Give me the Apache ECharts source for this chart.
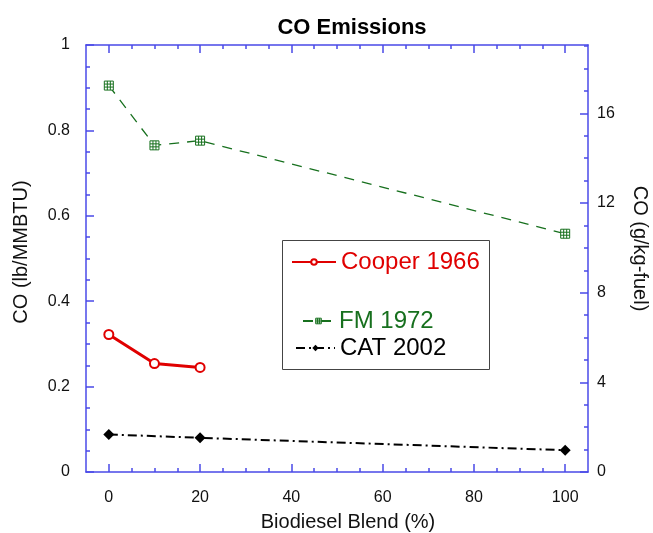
<!DOCTYPE html>
<html>
<head>
<meta charset="utf-8">
<script src="https://cdn.jsdelivr.net/npm/echarts@6/dist/echarts.min.js"></script>
<style>
  html, body { margin: 0; padding: 0; background: #fff; }
  #chart { width: 653px; height: 533px; }
</style>
</head>
<body>
<div id="chart"></div>
<script>
// values (x = % biodiesel, y = lb/MMBTU)
var cooperX = [0, 10, 20];
var cooperY = [0.322, 0.254, 0.245];
var fmX = [0, 10, 20, 100];
var fmY = [0.905, 0.765, 0.776, 0.558];
var catX = [0, 20, 100];
var catY = [0.088, 0.080, 0.051];

var xLabels = [0, 20, 40, 60, 80, 100];
var rightLabels = [0, 4, 8, 12, 16];

var font = 'Liberation Sans';
var axisBlue = '#4a4ae8';
var red = '#e00000';
var green = '#17701e';

function pairs(xs, ys) {
    var out = [];
    for (var i = 0; i < xs.length; i++) {
        out.push([xs[i], ys[i]]);
    }
    return out;
}

// minor tick spots
var xMinor = [];
for (var v = 0; v <= 100; v += 5) xMinor.push(v);
var rightMinor = [];
for (var r = 0; r <= 19; r++) rightMinor.push(r);

function xAxisCfg(pos, major) {
    return {
        type: 'value', position: pos, min: -5, max: 105,
        axisLine: { show: major, onZero: false, lineStyle: { color: axisBlue, width: 1.5 } },
        axisTick: { show: true, inside: true, length: major ? 8 : 4,
                    customValues: major ? xLabels : xMinor,
                    lineStyle: { color: axisBlue, width: 1.5 } },
        axisLabel: { show: major && pos == 'bottom', customValues: xLabels,
                     fontFamily: font, fontSize: 16, color: '#111', margin: 18 },
        splitLine: { show: false }
    };
}

var chart = echarts.init(document.getElementById('chart'));

var option = {
    backgroundColor: '#fff',
    animation: false,
    title: {
        text: 'CO Emissions',
        left: 347, top: 12, textAlign: 'center',
        textStyle: { fontFamily: font, fontSize: 22, fontWeight: 'bold', color: '#000' }
    },
    grid: { left: 86, right: 65, top: 45, bottom: 61, containLabel: false, outerBoundsMode: 'none' },
    graphic: [{
        type: 'rect',
        shape: { x: 282.5, y: 240.5, width: 207, height: 129 },
        style: { fill: '#fff', stroke: '#444', lineWidth: 1 },
        z: 50
    }],
    legend: [{
        data: ['Cooper 1966'], left: 291, top: 250, padding: 0,
        itemWidth: 44, itemHeight: 7, itemGap: 5, z: 60,
        textStyle: { fontFamily: font, fontSize: 24, lineHeight: 24, color: red }
    }, {
        data: ['FM 1972'], left: 302, top: 309, padding: 0,
        itemWidth: 31, itemHeight: 7, z: 60,
        itemStyle: { color: '#fff', borderColor: green, borderWidth: 1 },
        textStyle: { fontFamily: font, fontSize: 24, lineHeight: 24, color: green }
    }, {
        data: ['CAT 2002'], left: 295, top: 336, padding: 0,
        itemWidth: 39, itemHeight: 8, z: 60,
        textStyle: { fontFamily: font, fontSize: 24, lineHeight: 24, color: '#000' }
    }],
    xAxis: [
        Object.assign(xAxisCfg('bottom', true), {
            name: 'Biodiesel Blend (%)', nameLocation: 'middle', nameGap: 40,
            nameTextStyle: { fontFamily: font, fontSize: 20, color: '#111', padding: [0, 0, 0, 22] }
        }),
        xAxisCfg('bottom', false),
        xAxisCfg('top', true),
        xAxisCfg('top', false)
    ],
    yAxis: [{
        type: 'value', position: 'left', min: 0, max: 1, interval: 0.2,
        name: 'CO (lb/MMBTU)', nameLocation: 'middle', nameGap: 55,
        nameTextStyle: { fontFamily: font, fontSize: 20, color: '#111', padding: [0, 0, 0, 13] },
        axisLine: { show: true, onZero: false, lineStyle: { color: axisBlue, width: 1.5 } },
        axisTick: { show: true, inside: true, length: 8, lineStyle: { color: axisBlue, width: 1.5 } },
        minorTick: { show: true, splitNumber: 4, length: 4, lineStyle: { color: axisBlue, width: 1.5 } },
        axisLabel: { fontFamily: font, fontSize: 16, color: '#111', margin: 16 },
        splitLine: { show: false }
    }, {
        type: 'value', position: 'right', min: 0, max: 19.05,
        name: 'CO (g/kg-fuel)', nameLocation: 'middle', nameGap: 42, nameRotate: -90,
        nameTextStyle: { fontFamily: font, fontSize: 20, color: '#111', padding: [0, 20, 0, 0] },
        axisLine: { show: true, onZero: false, lineStyle: { color: axisBlue, width: 1.5 } },
        axisTick: { show: true, inside: true, length: 8, customValues: rightLabels,
                    lineStyle: { color: axisBlue, width: 1.5 } },
        axisLabel: { customValues: rightLabels, fontFamily: font, fontSize: 16, color: '#111', margin: 9 },
        splitLine: { show: false }
    }, {
        type: 'value', position: 'right', min: 0, max: 19.05,
        axisLine: { show: false, onZero: false },
        axisTick: { show: true, inside: true, length: 4, customValues: rightMinor,
                    lineStyle: { color: axisBlue, width: 1.5 } },
        axisLabel: { show: false },
        splitLine: { show: false }
    }],
    series: [{
        name: 'Cooper 1966', type: 'line', data: pairs(cooperX, cooperY),
        symbol: 'emptyCircle', symbolSize: 9, z: 5,
        itemStyle: { color: red, borderColor: red, borderWidth: 1 },
        lineStyle: { color: red, width: 3 }
    }, {
        name: 'FM 1972', type: 'line', data: pairs(fmX, fmY),
        symbol: 'path://M0,0H9V9H0Z M3,0V9 M6,0V9 M0,3H9 M0,6H9', symbolSize: 9, z: 4,
        itemStyle: { color: '#ffffff', borderColor: green, borderWidth: 1 },
        lineStyle: { color: green, width: 1.3, type: [10, 8] }
    }, {
        name: 'CAT 2002', type: 'line', data: pairs(catX, catY),
        symbol: 'diamond', symbolSize: 11, z: 3,
        itemStyle: { color: '#000' },
        lineStyle: { color: '#000', width: 2, type: [9, 4, 2, 4] }
    }]
};

chart.setOption(option);
</script>
</body>
</html>
